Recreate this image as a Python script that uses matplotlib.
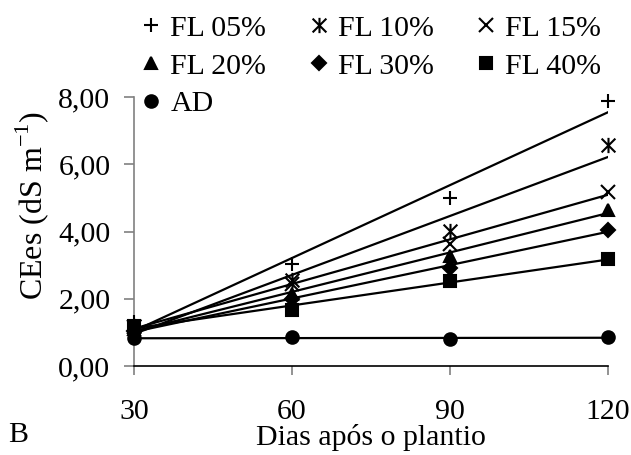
import numpy as np
import matplotlib.pyplot as plt
from matplotlib.path import Path

plt.rcParams['font.family'] = ['Liberation Serif', 'DejaVu Serif']
plt.rcParams['mathtext.fontset'] = 'custom'
plt.rcParams['mathtext.rm'] = 'Liberation Serif'

dias = [30, 60, 90, 120]
fl05 = [1.30, 3.02, 4.99, 7.87]
fl10 = [1.20, 2.56, 4.02, 6.56]
fl15 = [1.15, 2.45, 3.63, 5.18]
fl20 = [1.10, 2.15, 3.28, 4.63]
fl30 = [1.05, 2.00, 2.92, 4.05]
fl40 = [1.20, 1.66, 2.52, 3.19]
ad = [0.82, 0.85, 0.81, 0.85]

# asterisk: an x crossed by a vertical bar
star = Path([(-0.9, -0.9), (0.9, 0.9), (-0.9, 0.9), (0.9, -0.9), (0, -1), (0, 1)],
            [Path.MOVETO, Path.LINETO] * 3)

series = [
    ('FL 05%', fl05, '+', 10),
    ('FL 10%', fl10, star, 11),
    ('FL 15%', fl15, 'x', 10),
    ('FL 20%', fl20, '^', 9),
    ('FL 30%', fl30, 'D', 7),
    ('FL 40%', fl40, 's', 8.5),
    ('AD', ad, 'o', 9),
]

fs = 21.5
fig = plt.figure(figsize=(6.31, 4.55), dpi=100)
ax = fig.add_axes([134 / 631, 89 / 455, 474 / 631, 269 / 455])

x = np.array(dias)
handles = {}
for name, vals, mk, ms in series:
    # linear fit over the whole period
    a, b = np.polyfit(x, vals, 1)
    ax.plot(x, a * x + b, color='black', lw=1.6, zorder=2)
    h, = ax.plot(x, vals, linestyle='none', marker=mk, markersize=ms,
                 color='black', markeredgewidth=1.5, zorder=3, clip_on=False)
    handles[name] = h

ax.set_xlim(30, 120)
ax.set_ylim(0, 8)
ax.set_xticks(dias)
ax.set_yticks([0, 2, 4, 6, 8])
ax.set_yticklabels(['0,00', '2,00', '4,00', '6,00', '8,00'])
ax.spines['top'].set_visible(False)
ax.spines['right'].set_visible(False)
ax.spines['left'].set_color('#808080')
ax.spines['left'].set_linewidth(1.2)
ax.spines['bottom'].set_color('black')
ax.spines['bottom'].set_linewidth(1.2)
ax.tick_params(axis='y', direction='out', length=7, width=1.2, color='#808080',
               labelsize=fs, pad=10)
ax.tick_params(axis='x', direction='out', length=6.5, width=1.2, color='#808080',
               labelsize=fs, pad=17)

fig.text(32 / 631, 1 - 205 / 455, 'CEes (dS m$^{\\mathrm{-1}}$)', rotation=90,
         ha='center', va='center', fontsize=23)
fig.text(371 / 631, 10 / 455, 'Dias após o plantio',
         ha='center', va='baseline', fontsize=fs)
fig.text(18 / 631, 13 / 455, 'B', ha='center', va='baseline', fontsize=fs)

# column-major order so rows read FL05 FL10 FL15 / FL20 FL30 FL40 / AD
order = ['FL 05%', 'FL 20%', 'AD', 'FL 10%', 'FL 30%', 'FL 15%', 'FL 40%']
fig.legend([handles[n] for n in order], order, ncol=3, frameon=False,
           loc='upper left', bbox_to_anchor=(142 / 631, 1 - 15 / 455),
           fontsize=fs, markerscale=1.0, handlelength=0.6,
           handletextpad=0.35, columnspacing=1.45, labelspacing=0.36,
           borderpad=0, borderaxespad=0)

fig.savefig('out.png', dpi=100)
